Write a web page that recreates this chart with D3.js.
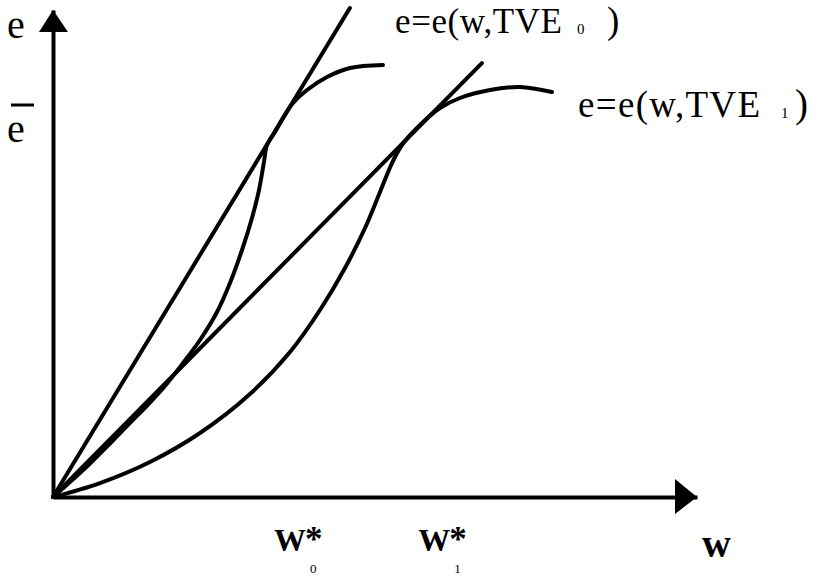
<!DOCTYPE html>
<html>
<head>
<meta charset="utf-8">
<script src="https://cdn.jsdelivr.net/npm/d3@7"></script>
<style>
  body { margin: 0; background: #fff; }
  svg { display: block; }
  text { font-family: "Liberation Serif", "Times New Roman", serif; fill: #000; }
</style>
</head>
<body>
<svg></svg>
<script>
const width = 817, height = 577;

// curve e = e(w, TVE0)
const curve0W = [0, 2.64, 5.75, 8.85, 11.96, 15.06, 17.39, 20.19, 22.83, 25.47, 27.48, 29.35, 30.9, 31.99, 32.76, 33.23, 34.47, 35.71, 37.27, 39.44, 42.55, 46.12, 51.24];
const curve0E = [0, 3.08, 6.88, 10.99, 15.2, 19.4, 22.79, 27.52, 32.24, 37.99, 43.94, 50.72, 57.29, 63.04, 68.79, 72.28, 74.95, 77.82, 80.9, 83.57, 86.24, 88.09, 88.71];

// curve e = e(w, TVE1)
const curve1W = [0, 7.3, 15.06, 22.83, 30.59, 36.8, 41.46, 45.34, 48.45, 50.78, 52.64, 54.19, 56.99, 60.09, 63.2, 67.86, 72.52, 77.48];
const curve1E = [0, 2.87, 7.19, 13.14, 21.15, 29.77, 38.4, 47.02, 55.24, 62.63, 68.58, 72.28, 76.39, 79.88, 81.93, 83.57, 84.19, 83.16];

// rays from the origin (tangents)
const ray0W = [0, 46.1], ray0E = [0, 100.4];
const ray1W = [0, 66.6], ray1E = [0, 89.1];

// optimal w for each curve
const wStar = [36.8, 59.2];
const wStarSubs = ["0", "1"];

const svg = d3.select("svg")
    .attr("width", width)
    .attr("height", height);

const x = d3.scaleLinear().domain([0, 100]).range([53, 697]);
const y = d3.scaleLinear().domain([0, 100]).range([497, 10]);

// axes without ticks
svg.append("g")
    .attr("transform", `translate(0,${y(0)})`)
    .call(d3.axisBottom(x).ticks(0).tickSizeOuter(0));
svg.append("g")
    .attr("transform", `translate(${x(0)},0)`)
    .call(d3.axisLeft(y).ticks(0).tickSizeOuter(0));
svg.selectAll(".domain").attr("stroke", "#000").attr("stroke-width", 4);

// arrow heads
svg.append("path")
    .attr("d", `M${x(100)},${y(0)} L${x(100) - 22},${y(0) - 18} L${x(100) - 22},${y(0) + 17} Z`)
    .attr("fill", "#000");
svg.append("path")
    .attr("d", `M${x(0)},${y(100)} L${x(0) - 14},${y(100) + 22} L${x(0) + 15},${y(100) + 22} Z`)
    .attr("fill", "#000");

const line = d3.line()
    .x(d => x(d[0]))
    .y(d => y(d[1]));

const smooth = d3.line()
    .x(d => x(d[0]))
    .y(d => y(d[1]))
    .curve(d3.curveCatmullRom.alpha(0.5));

function draw(ws, es, gen) {
    svg.append("path")
        .datum(d3.zip(ws, es))
        .attr("d", gen)
        .attr("fill", "none")
        .attr("stroke", "#000")
        .attr("stroke-width", 4)
        .attr("stroke-linecap", "round")
        .attr("stroke-linejoin", "round");
}

draw(ray0W, ray0E, line);
draw(ray1W, ray1E, line);
draw(curve0W, curve0E, smooth);
draw(curve1W, curve1E, smooth);

// axis labels
svg.append("text").attr("x", 7).attr("y", 38).attr("font-size", 40).text("e");
svg.append("text").attr("x", 7).attr("y", 142).attr("font-size", 40).text("e");
svg.append("line")
    .attr("x1", 11).attr("x2", 34).attr("y1", 105).attr("y2", 105)
    .attr("stroke", "#000").attr("stroke-width", 3);
svg.append("text").attr("x", 702).attr("y", 557).attr("font-size", 40).attr("font-weight", "bold").text("w");

// W* labels
wStar.forEach((w, i) => {
    const cx = x(w);
    const t = svg.append("text")
        .attr("x", cx - 16).attr("y", 551)
        .attr("font-size", 32).attr("font-weight", "bold")
        .text("W");
    t.append("tspan")
        .attr("font-size", 35).attr("dx", -1)
        .text("*");
    svg.append("text")
        .attr("x", cx + 20).attr("y", 573)
        .attr("font-size", 13)
        .text(wStarSubs[i]);
});

// curve labels
function curveLabel(x0, base, size, len, sub, subX, parX) {
    svg.append("text")
        .attr("x", x0).attr("y", base)
        .attr("font-size", size)
        .attr("textLength", len).attr("lengthAdjust", "spacing")
        .text("e=e(w,TVE");
    svg.append("text")
        .attr("x", subX).attr("y", base + 1)
        .attr("font-size", 15)
        .text(sub);
    svg.append("text")
        .attr("x", parX).attr("y", base)
        .attr("font-size", size + 2)
        .text(")");
}
curveLabel(395, 33, 35, 167, "0", 577, 607);
curveLabel(578, 117, 37, 182, "1", 781, 795);
</script>
</body>
</html>
